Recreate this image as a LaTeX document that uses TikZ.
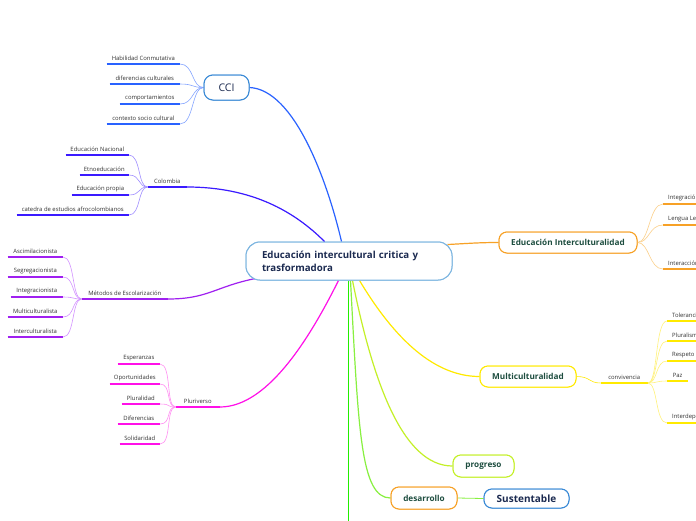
\documentclass[tikz,border=0pt]{standalone}
\usepackage{fontspec}
\setmainfont{Open Sans}
\usetikzlibrary{calc}
\definecolor{navy}{HTML}{1B2A50}
\definecolor{dgreen}{HTML}{1D4D3F}
\definecolor{leafgray}{HTML}{333333}
\definecolor{rootb}{HTML}{7AB4E0}
\definecolor{bluen}{HTML}{3A8AD6}
\definecolor{cciC}{HTML}{2962FF}
\definecolor{cciL}{HTML}{85A5FF}
\definecolor{colC}{HTML}{3A1AFF}
\definecolor{colL}{HTML}{A08EFF}
\definecolor{metC}{HTML}{A020F0}
\definecolor{metL}{HTML}{D392FF}
\definecolor{pluC}{HTML}{FF10E8}
\definecolor{pluL}{HTML}{FF90F2}
\definecolor{orC}{HTML}{F7A126}
\definecolor{orL}{HTML}{FCD08A}
\definecolor{yeC}{HTML}{FFEA00}
\definecolor{yeL}{HTML}{FFF27A}
\definecolor{ygC}{HTML}{C4F028}
\definecolor{lgC}{HTML}{88F040}
\definecolor{grC}{HTML}{22EE00}
\newcommand{\leaffont}{\fontsize{5.9}{7}\selectfont}
\tikzset{
  leaf/.style={font=\leaffont, text=leafgray, inner xsep=0pt, inner ysep=3pt, anchor=south east},
  leafl/.style={font=\leaffont, text=leafgray, inner xsep=5pt, inner ysep=3pt, anchor=south west},
  ul/.style={draw=#1, line width=1.5pt},
  twig/.style={draw=#1, line width=0.6pt},
  branch/.style={draw=#1, line width=1.2pt},
  topic/.style={draw=#1, line width=1pt, rounded corners=8pt, fill=white, font=\bfseries\fontsize{8.2}{9}\selectfont, text=dgreen, inner sep=0pt},
  rootst/.style={draw=rootb, line width=1pt, rounded corners=14pt, fill=white, minimum width=206pt, minimum height=38pt, inner xsep=16pt, text width=174pt, align=left, font=\bfseries\fontsize{9.7}{13}\selectfont, text=navy},
  ccist/.style={draw=bluen, line width=1pt, rounded corners=9pt, fill=white, minimum width=45pt, minimum height=25pt, inner sep=0pt, font=\fontsize{10.5}{11}\selectfont, text=navy},
  sust/.style={topic=bluen, minimum width=85pt, minimum height=19pt, font=\bfseries\fontsize{10}{11}\selectfont, text=navy},
}
\begin{document}
\begin{tikzpicture}[x=1pt,y=-1pt]
\useasboundingbox (0,0) rectangle (696,520);
\clip (0,0) rectangle (696,520);
\fill[white] (0,0) rectangle (696,520);

% ---------- nodes ----------
\node[rootst] (root) at (349,261) {Educación intercultural critica y\\trasformadora};
\node[ccist] (cci) at (226.5,87.5) {CCI};
\node[topic=orC, minimum width=138pt, minimum height=21pt] (ei) at (568,242.5) {Educación Interculturalidad};
\node[topic=yeC, minimum width=96pt, minimum height=21pt] (mc) at (528,376.5) {Multiculturalidad};
\node[topic=ygC, minimum width=61pt, minimum height=22pt] (pr) at (483.5,466) {progreso};
\node[topic=orC, minimum width=66pt, minimum height=22pt] (de) at (424,498) {desarrollo};
\node[sust] (su) at (526.5,498.5) {Sustentable};

% CCI leaves
\node[leaf, minimum width=73pt] (h1) at (180,64) {Habilidad Conmutativa};
\node[leaf, minimum width=70pt] (h2) at (180,84) {diferencias culturales};
\node[leaf, minimum width=60pt] (h3) at (180,104) {comportamientos};
\node[leaf, minimum width=73pt] (h4) at (180,124) {contexto socio cultural};

% Colombia
\node[leaf, minimum width=39pt] (col) at (187,187) {Colombia};
\node[leaf, minimum width=63pt] (c1) at (129,155) {Educación Nacional};
\node[leaf, minimum width=49pt] (c2) at (129,175) {Etnoeducación};
\node[leaf, minimum width=57pt] (c3) at (129,195) {Educación propia};
\node[leaf, minimum width=112pt] (c4) at (129,215) {catedra de estudios afrocolombianos};

% Metodos
\node[leaf, minimum width=86pt] (met) at (168,299) {Métodos de Escolarización};
\node[leaf, minimum width=55pt] (m1) at (63,257) {Ascimilacionista};
\node[leaf, minimum width=55pt] (m2) at (63,277) {Segregacionista};
\node[leaf, minimum width=52pt] (m3) at (63,297) {Integracionista};
\node[leaf, minimum width=55pt] (m4) at (63,317) {Multiculturalista};
\node[leaf, minimum width=55pt] (m5) at (63,337) {Interculturalista};

% Pluriverso
\node[leaf, minimum width=44pt] (plu) at (220,407) {Pluriverso};
\node[leaf, minimum width=42pt] (p1) at (160,364) {Esperanzas};
\node[leaf, minimum width=50pt] (p2) at (160,384) {Oportunidades};
\node[leaf, minimum width=38pt] (p3) at (160,404) {Pluralidad};
\node[leaf, minimum width=42pt] (p4) at (160,424) {Diferencias};
\node[leaf, minimum width=40pt] (p5) at (160,444) {Solidaridad};

% EI leaves
\node[leafl] (e1) at (663,204) {Integración};
\node[leafl] (e2) at (663,225) {Lengua Le};
\node[leafl] (e3) at (663,269) {Interacción};

% convivencia
\node[leaf, minimum width=47pt] (cv) at (648,383) {convivencia};
\node[leafl] (t1) at (667,321) {Tolerancia};
\node[leafl] (t2) at (667,341) {Pluralismo};
\node[leafl] (t3) at (667,361) {Respeto};
\node[leafl, minimum width=21pt] (t4) at (667,381) {Paz};
\node[leafl] (t5) at (667,423) {Interdependencia};

% ---------- main branches ----------
\draw[branch=cciC] (cci.east) .. controls +(45,2) and +(-14,-60) .. ($(root.north west)+(96,0)$);
\draw[branch=colC] (col.south east) .. controls +(65,0) and +(-30,-30) .. ($(root.north west)+(79,0)$);
\draw[branch=metC] (met.south east) .. controls +(40,0) and +(-40,8) .. ($(root.south west)+(10,-2)$);
\draw[branch=pluC] (plu.south east) .. controls +(50,0) and +(-25,50) .. ($(root.south west)+(93,0)$);
\draw[branch=orC] ($(root.north east)+(-5,3)$) .. controls +(20,-1) and +(-20,0) .. (ei.west);
\draw[branch=yeC] ($(root.south west)+(114,0)$) .. controls +(30,50) and +(-50,0) .. (mc.west);
\draw[branch=ygC] ($(root.south west)+(107,0)$) .. controls +(20,100) and +(-50,0) .. (pr.west);
\draw[branch=lgC] ($(root.south west)+(105,0)$) .. controls +(8,150) and +(-30,0) .. (de.west);
\draw[branch=grC] ($(root.south west)+(103,0)$) coordinate (vtop) -- (vtop |- 0,530) coordinate (vbot);
\draw[branch=lgC, line width=0.8pt] (de.east) -- (su.west);

% ---------- leaves: underlines and twigs ----------
\foreach \n in {h1,h2,h3,h4}{
  \draw[ul=cciC] (\n.south west) -- (\n.south east);
  \draw[twig=cciL] (\n.south east) .. controls +(14,0) and +(-12,0) .. (cci.west);
}
\draw[ul=colC] (col.south west) -- (col.south east);
\foreach \n in {c1,c2,c3,c4}{
  \draw[ul=colC] (\n.south west) -- (\n.south east);
  \draw[twig=colL] (\n.south east) .. controls +(12,0) and +(-10,0) .. (col.south west);
}
\draw[ul=metC] (met.south west) -- (met.south east);
\foreach \n in {m1,m2,m3,m4,m5}{
  \draw[ul=metC] (\n.south west) -- (\n.south east);
  \draw[twig=metL] (\n.south east) .. controls +(12,0) and +(-10,0) .. (met.south west);
}
\draw[ul=pluC] (plu.south west) -- (plu.south east);
\foreach \n in {p1,p2,p3,p4,p5}{
  \draw[ul=pluC] (\n.south west) -- (\n.south east);
  \draw[twig=pluL] (\n.south east) .. controls +(12,0) and +(-10,0) .. (plu.south west);
}
\foreach \n in {e1,e2,e3}{
  \draw[ul=orC] (\n.south west) -- ++(45,0);
  \draw[twig=orL] (\n.south west) .. controls +(-14,0) and +(12,0) .. (ei.east);
}
\draw[ul=yeC] (cv.south west) -- (cv.south east);
\draw[twig=yeC] (mc.east) .. controls +(14,0) and +(-12,0) .. (cv.south west);
\foreach \n in {t1,t2,t3,t5}{
  \draw[ul=yeC] (\n.south west) -- ++(45,0);
  \draw[twig=yeL] (\n.south west) .. controls +(-12,0) and +(10,0) .. (cv.south east);
}
\draw[ul=yeC] (t4.south west) -- (t4.south east);
\draw[twig=yeL] (t4.south west) .. controls +(-12,0) and +(10,0) .. (cv.south east);

% redraw nodes on top of the lines
\node[rootst] at (root) {Educación intercultural critica y\\trasformadora};
\node[ccist] at (cci) {CCI};
\node[topic=orC, minimum width=138pt, minimum height=21pt] at (ei) {Educación Interculturalidad};
\node[topic=yeC, minimum width=96pt, minimum height=21pt] at (mc) {Multiculturalidad};
\node[topic=ygC, minimum width=61pt, minimum height=22pt] at (pr) {progreso};
\node[topic=orC, minimum width=66pt, minimum height=22pt] at (de) {desarrollo};
\node[sust] at (su) {Sustentable};
\end{tikzpicture}
\end{document}
